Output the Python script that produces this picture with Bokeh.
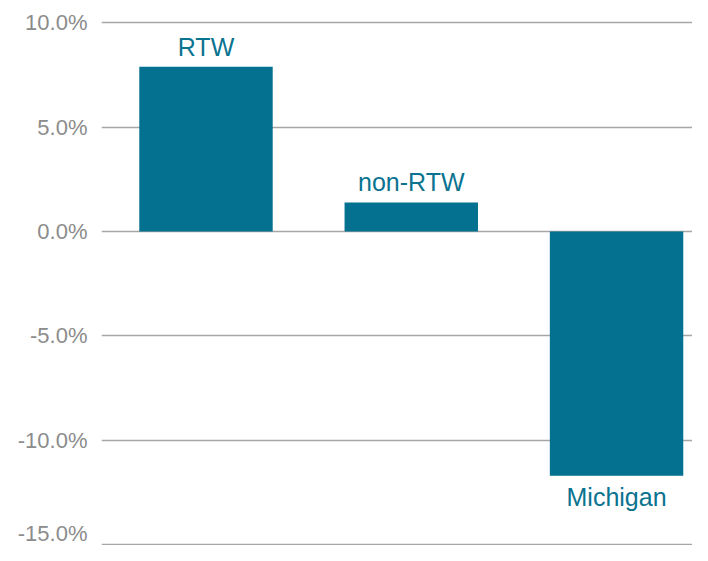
from bokeh.plotting import figure
from bokeh.models import Range1d, FixedTicker, ColumnDataSource, CustomJSTickFormatter
from bokeh.embed import file_html
from bokeh.resources import INLINE
from bokeh.core.properties import value

categories = ["RTW", "non-RTW", "Michigan"]
values = [7.9, 1.4, -11.7]
ticks = [-15, -10, -5, 0, 5, 10]

BAR = "#03718F"
FONT = "Liberation Sans"

xs = list(range(len(categories)))
p = figure(width=692, height=545, output_backend="svg", toolbar_location=None,
           x_range=Range1d(-0.509, 2.370), y_range=Range1d(-15.048, 10.599),
           min_border_left=101, min_border_right=0, min_border_top=10, min_border_bottom=0)
p.outline_line_color = None
p.xaxis.visible = False
p.xgrid.visible = False
p.ygrid.grid_line_color = "#a6a6a6"
p.ygrid.grid_line_width = 1.5
p.yaxis.ticker = FixedTicker(ticks=ticks)
p.yaxis.formatter = CustomJSTickFormatter(code="return tick.toFixed(1) + '%';")
p.yaxis.axis_line_color = None
p.yaxis.major_tick_line_color = None
p.yaxis.minor_tick_line_color = None
p.yaxis.major_tick_out = 0
p.yaxis.major_label_standoff = 14
p.yaxis.major_label_text_font = FONT
p.yaxis.major_label_text_font_size = "22px"
p.yaxis.major_label_text_color = "#8c8c8c"

src = ColumnDataSource(dict(x=xs, top=values, cat=categories))
p.vbar(x="x", top="top", bottom=0, width=0.65, source=src, fill_color=BAR, line_color=None)

pos = [i for i, v in enumerate(values) if v >= 0]
neg = [i for i, v in enumerate(values) if v < 0]
p.text(x=[xs[i] for i in pos], y=[values[i] for i in pos], text=[categories[i] for i in pos],
       text_align="center", text_baseline="bottom", y_offset=-6,
       text_font=value(FONT), text_font_size="25px", text_color="#0a7390")
p.text(x=[xs[i] for i in neg], y=[values[i] for i in neg], text=[categories[i] for i in neg],
       text_align="center", text_baseline="top", y_offset=7,
       text_font=value(FONT), text_font_size="25px", text_color="#0a7390")

open("out.html", "w").write(file_html(p, INLINE))
